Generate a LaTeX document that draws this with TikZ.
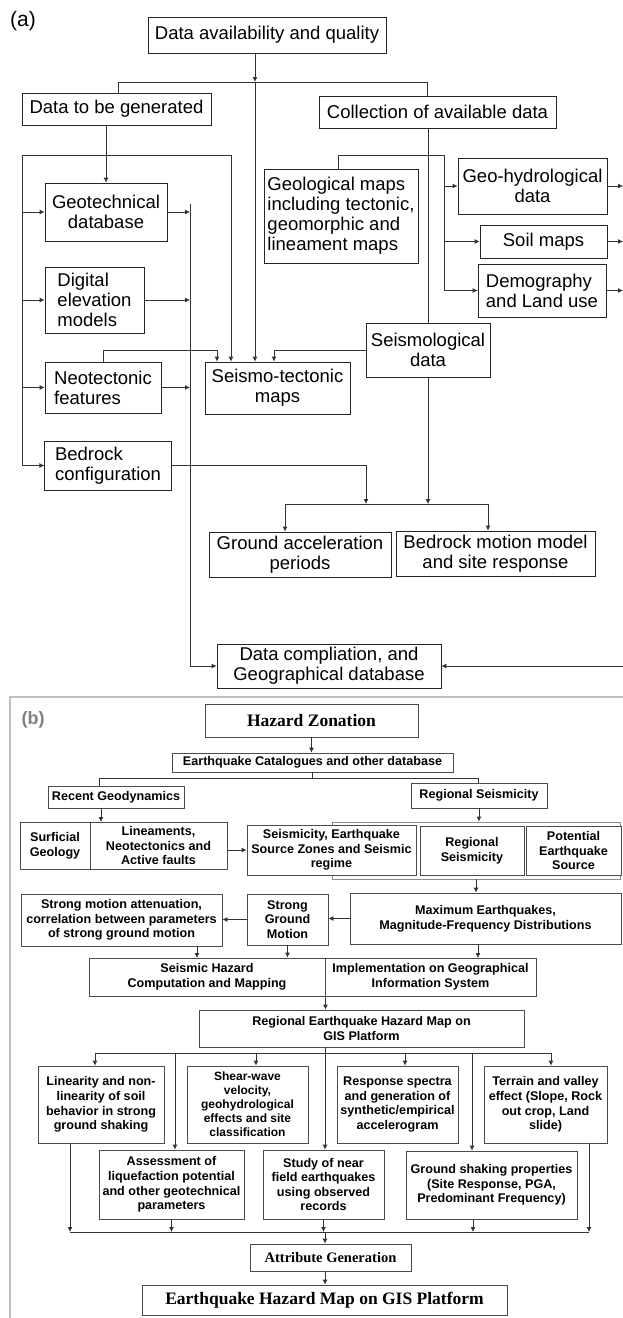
\documentclass[tikz,border=0pt]{standalone}
\usepackage{fontspec}
\setmainfont{Liberation Sans}
\newfontfamily\serifhd{Liberation Serif}
\usepackage{tikz}
\usetikzlibrary{positioning, arrows.meta}
\newcommand{\txta}{\fontsize{18.5}{20}\selectfont}
\newcommand{\txtb}{\fontsize{12.6}{14.6}\selectfont\bfseries}
\tikzset{
    abox/.style={draw=black!85, line width=0.8pt, fill=white, align=center, inner sep=2pt, font=\txta},
    aleft/.style={abox, align=left},
    bbox/.style={draw=black!70, line width=0.8pt, fill=white, align=center, inner sep=1pt, font=\txtb},
    bhead/.style={bbox, font=\serifhd\bfseries\fontsize{17.5}{20}\selectfont},
    bframe/.style={draw=black!45, line width=0.8pt, fill=white},
    flowline/.style={draw=black!80, line width=0.8pt},
    flowarrow/.style={flowline, -{Latex[length=5pt,width=5pt]}},
    panel/.style={draw=black!25, line width=1.5pt},
    panellbl/.style={font=\fontsize{18}{20}\selectfont\bfseries, text=black!50},
}

\begin{document}
\begin{tikzpicture}[x=1pt, y=-1pt]
    \useasboundingbox (0,0) rectangle (623,1318);
    % ---------- (a) ----------
    \node[font=\fontsize{21}{22}\selectfont] (lbla) at (23,21) {(a)};
    \node[abox, minimum width=238, minimum height=36] (top) at (267,35) {Data availability and quality};
    \node[abox, minimum width=189, minimum height=32] (gen) at (116.5,109) {Data to be generated};
    \node[abox, minimum width=237, minimum height=32] (coll) at (437.5,112) {Collection of available data};
    % generated data (left column)
    \node[abox, minimum width=122, minimum height=58] (geot) at (106,212) {Geotechnical\\database};
    \node[aleft, minimum width=99, minimum height=66] (dem) at (94.5,300) {Digital\\elevation\\models};
    \node[aleft, minimum width=116, minimum height=51] (neo) at (103,387.5) {Neotectonic\\features};
    \node[aleft, minimum width=126.5, minimum height=49] (bed) at (108,465.5) {Bedrock\\configuration};
    % available data (right column)
    \node[aleft, minimum width=154, minimum height=94] (geol) at (341,216) {Geological maps\\including tectonic,\\geomorphic and\\lineament maps};
    \node[abox, minimum width=149, minimum height=56] (geoh) at (532.5,186) {Geo-hydrological\\data};
    \node[abox, minimum width=127, minimum height=33] (soil) at (543.5,241.5) {Soil maps};
    \node[aleft, minimum width=128, minimum height=53] (demo) at (542,290.5) {Demography\\and Land use};
    \node[abox, minimum width=124, minimum height=54] (sdata) at (428,350) {Seismological\\data};
    % products
    \node[abox, minimum width=145, minimum height=52] (seismo) at (277.5,388) {Seismo-tectonic\\maps};
    \node[abox, minimum width=182, minimum height=45] (gacc) at (300,554.5) {Ground acceleration\\periods};
    \node[abox, minimum width=199, minimum height=45] (bmm) at (495.5,553.5) {Bedrock motion model\\and site response};
    \node[abox, minimum width=224, minimum height=44] (dc) at (329,666) {Data compliation, and\\Geographical database};
    % junctions
    \coordinate (jtop) at (255,82);
    \coordinate (jgen) at (118,82);
    \coordinate (jcoll) at (427,82);
    \coordinate (bl) at (22,155);
    \coordinate (br) at (231,155);
    \coordinate (jgl) at (338,155);
    \coordinate (jgr) at (444,155);
    \coordinate (cx) at (190,204);
    \coordinate (jneo) at (217,350);
    \coordinate (jsd) at (274,350);
    \coordinate (jbed) at (366,504);
    \coordinate (jl) at (285,504);
    \coordinate (jr) at (488,504);
    \coordinate (redge) at (623,0);
    % connectors
    \draw[flowarrow] (top.south -| jtop) -- (jtop);
    \draw[flowline] (gen.north -| jgen) |- (jcoll) -- (coll.north -| jcoll);
    \draw[flowarrow] (jtop) -- (seismo.north -| jtop);
    \draw[flowarrow] (geot.north |- gen.south) -- (geot.north);
    \draw[flowline] (br) -- (bl) -- (bed.west -| bl);
    \draw[flowarrow] (geot.west -| bl) -- (geot.west);
    \draw[flowarrow] (dem.west -| bl) -- (dem.west);
    \draw[flowarrow] (neo.west -| bl) -- (neo.west);
    \draw[flowarrow] (bed.west -| bl) -- (bed.west);
    \draw[flowarrow] (br) -- (seismo.north -| br);
    \draw[flowarrow] (cx) |- (dc.west);
    \draw[flowarrow] (geot.east) -- (geot.east -| cx);
    \draw[flowarrow] (dem.east) -- (dem.east -| cx);
    \draw[flowarrow] (neo.east) -- (neo.east -| cx);
    \draw[flowarrow] (neo.north) |- (jneo) -- (seismo.north -| jneo);
    \draw[flowarrow] (sdata.west) -| (seismo.north -| jsd);
    \draw[flowline] (coll.south -| sdata.north) -- (sdata.north);
    \draw[flowline] (geol.north -| jgl) |- (jgr) -- (demo.west -| jgr);
    \draw[flowarrow] (geoh.west -| jgr) -- (geoh.west);
    \draw[flowarrow] (soil.west -| jgr) -- (soil.west);
    \draw[flowarrow] (demo.west -| jgr) -- (demo.west);
    \draw[flowarrow] (geoh.east) -- (geoh.east -| redge);
    \draw[flowarrow] (soil.east) -- (soil.east -| redge);
    \draw[flowarrow] (demo.east) -- (demo.east -| redge);
    \draw[flowarrow] (bed.east) -| (jbed);
    \draw[flowarrow] (sdata.south) -- (sdata.south |- jbed);
    \draw[flowline] (jl) -- (jr);
    \draw[flowarrow] (jl) -- (gacc.north -| jl);
    \draw[flowarrow] (jr) -- (bmm.north -| jr);
    \draw[flowarrow] (dc.east -| redge) -- (dc.east);
    % ---------- (b) ----------
    \draw[panel] (10,1318) -- (10,697) -- (623,697);
    \node[panellbl] (lblb) at (33,720) {(b)};
    \node[bhead, minimum width=213, minimum height=33] (hz) at (311.5,720.5) {Hazard Zonation};
    \node[bbox, minimum width=281, minimum height=19] (cat) at (312.5,762.5) {Earthquake Catalogues and other database};
    \node[bbox, minimum width=136, minimum height=22] (rgeo) at (116,797) {Recent Geodynamics};
    \node[bbox, minimum width=136, minimum height=25] (rsei) at (479,795.5) {Regional Seismicity};
    \node[bbox, minimum width=70, minimum height=47] (surf) at (55,845.5) {Surficial\\Geology};
    \node[bbox, minimum width=137, minimum height=47] (linea) at (158.5,845.5) {Lineaments,\\Neotectonics and\\Active faults};
    \node[bframe, minimum width=288, minimum height=57] (frm) at (476,850.5) {};
    \node[bbox, minimum width=169, minimum height=50] (sez) at (331.5,850) {Seismicity, Earthquake\\Source Zones and Seismic\\regime};
    \node[bbox, minimum width=104, minimum height=49] (rs2) at (472,850.5) {Regional\\Seismicity};
    \node[bbox, minimum width=95, minimum height=49] (pes) at (573.5,850.5) {Potential\\Earthquake\\Source};
    \node[bbox, minimum width=271, minimum height=51] (maxe) at (485.5,918.5) {Maximum Earthquakes,\\Magnitude-Frequency Distributions};
    \node[bbox, minimum width=81, minimum height=51] (sgm) at (287.5,919.5) {Strong\\Ground\\Motion};
    \node[bbox, minimum width=201, minimum height=52] (sma) at (121.5,920) {Strong motion attenuation,\\correlation between parameters\\of strong ground motion};
    \node[bbox, minimum width=236, minimum height=38] (shc) at (207,977) {Seismic Hazard\\Computation and Mapping};
    \node[bbox, minimum width=211, minimum height=38] (igis) at (430.5,977) {Implementation on Geographical\\Information System};
    \node[bbox, minimum width=325, minimum height=37] (rhm) at (361.5,1028.5) {Regional Earthquake Hazard Map on\\GIS Platform};
    % site effects
    \node[bbox, minimum width=126, minimum height=77] (lin) at (101,1104.5) {Linearity and non-\\linearity of soil\\behavior in strong\\ground shaking};
    \node[bbox, minimum width=121, minimum height=77, font=\fontsize{12}{14}\selectfont\bfseries] (shear) at (247.5,1104.5) {Shear-wave\\velocity,\\geohydrological\\effects and site\\classification};
    \node[bbox, minimum width=121, minimum height=77] (resp) at (397.5,1104.5) {Response spectra\\and generation of\\synthetic/empirical\\accelerogram};
    \node[bbox, minimum width=123, minimum height=77] (terr) at (545.5,1104.5) {Terrain and valley\\effect (Slope, Rock\\out crop, Land\\slide)};
    \node[bbox, minimum width=145, minimum height=69] (assess) at (171.5,1184.5) {Assessment of\\liquefaction potential\\and other geotechnical\\parameters};
    \node[bbox, minimum width=121, minimum height=69] (near) at (323.5,1184.5) {Study of near\\field earthquakes\\using observed\\records};
    \node[bbox, minimum width=171, minimum height=68] (gsp) at (491.5,1185) {Ground shaking properties\\(Site Response, PGA,\\Predominant Frequency)};
    \node[bhead, minimum width=161, minimum height=27, font=\serifhd\bfseries\fontsize{14.5}{16}\selectfont] (attr) at (330.5,1257.5) {Attribute Generation};
    \node[bhead, minimum width=365, minimum height=30] (ehm) at (324.5,1300) {Earthquake Hazard Map on GIS Platform};
    % junctions
    \coordinate (jrg) at (99,778);
    \coordinate (jrs) at (478,778);
    \coordinate (jrgd) at (101,822);
    \coordinate (d1) at (197,958);
    \coordinate (d3) at (478,958);
    \coordinate (hl) at (95,1053);
    \coordinate (hm) at (325,1053);
    \coordinate (hr) at (551,1053);
    \coordinate (h2) at (256,1053);
    \coordinate (h3) at (175,1053);
    \coordinate (h4) at (405,1053);
    \coordinate (h5) at (472,1053);
    \coordinate (bl2) at (70,1232);
    \coordinate (bm) at (325,1232);
    \coordinate (br2) at (589,1232);
    \coordinate (g5) at (473,1232);
    % connectors
    \draw[flowarrow] (hz.south) -- (hz.south |- cat.north);
    \draw[flowline] (cat.south) -- (cat.south |- jrg);
    \draw[flowline] (rgeo.north -| jrg) |- (jrs) -- (rsei.north -| jrs);
    \draw[flowarrow] (rgeo.south -| jrgd) -- (jrgd);
    \draw[flowarrow] (linea.east |- sez.west) -- (sez.west);
    \draw[flowarrow] (rsei.south) -- (rsei.south |- frm.north);
    \draw[flowarrow] (frm.south) -- (frm.south |- maxe.north);
    \draw[flowarrow] (maxe.west) -- (maxe.west -| sgm.east);
    \draw[flowarrow] (sgm.west) -- (sgm.west -| sma.east);
    \draw[flowarrow] (sma.south -| d1) -- (d1);
    \draw[flowarrow] (sgm.south) -- (sgm.south |- shc.north);
    \draw[flowarrow] (maxe.south -| d3) -- (d3);
    \draw[flowarrow] (shc.south east) -- (shc.south east |- rhm.north);
    \draw[flowline] (rhm.south -| hm) -- (hm);
    \draw[flowline] (hl) -- (hr);
    \draw[flowarrow] (hl) -- (lin.north -| hl);
    \draw[flowarrow] (h2) -- (shear.north -| h2);
    \draw[flowarrow] (h4) -- (resp.north -| h4);
    \draw[flowarrow] (hr) -- (terr.north -| hr);
    \draw[flowarrow] (h3) -- (assess.north -| h3);
    \draw[flowarrow] (hm) -- (near.north -| hm);
    \draw[flowarrow] (h5) -- (gsp.north -| h5);
    \draw[flowarrow] (lin.south -| bl2) -- (bl2);
    \draw[flowarrow] (terr.south -| br2) -- (br2);
    \draw[flowarrow] (assess.south) -- (assess.south |- bl2);
    \draw[flowarrow] (near.south) -- (near.south |- bl2);
    \draw[flowarrow] (gsp.south -| g5) -- (g5);
    \draw[flowline] (bl2) -- (br2);
    \draw[flowarrow] (bm) -- (bm |- attr.north);
    \draw[flowarrow] (bm |- attr.south) -- (bm |- ehm.north);
\end{tikzpicture}
\end{document}
